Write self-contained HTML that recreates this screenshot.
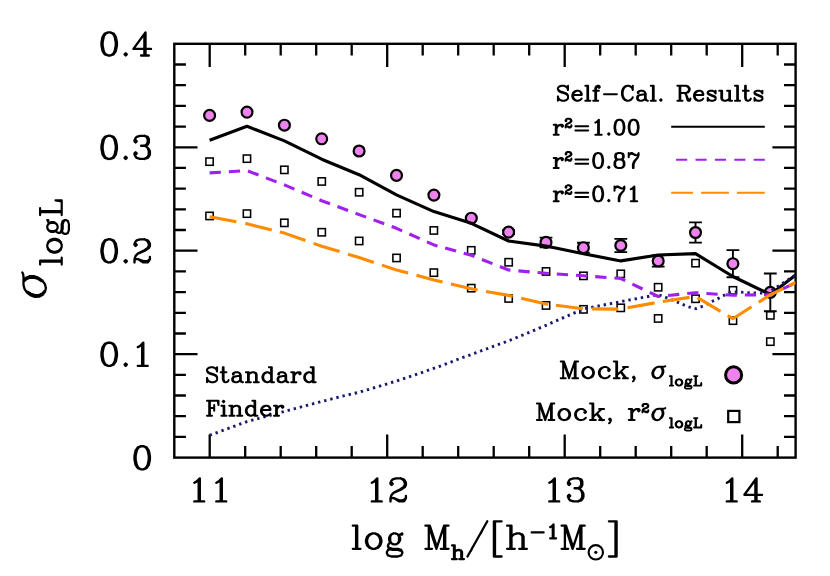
<!DOCTYPE html>
<html><head><meta charset="utf-8"><title>sigma logL</title>
<style>html,body{margin:0;padding:0;background:#fff;}svg{display:block;}</style>
</head><body>
<svg width="830" height="576" viewBox="0 0 830 576">
<rect x="0" y="0" width="830" height="576" fill="#fff"/>
<defs><clipPath id="cp"><rect x="174.3" y="43.8" width="621.3" height="413.8"/></clipPath></defs>
<path d="M209.7 457.6v-23.2M209.7 43.8v23.2M245.2 457.6v-11.6M245.2 43.8v11.6M280.7 457.6v-11.6M280.7 43.8v11.6M316.2 457.6v-11.6M316.2 43.8v11.6M351.7 457.6v-11.6M351.7 43.8v11.6M387.2 457.6v-23.2M387.2 43.8v23.2M422.7 457.6v-11.6M422.7 43.8v11.6M458.2 457.6v-11.6M458.2 43.8v11.6M493.7 457.6v-11.6M493.7 43.8v11.6M529.2 457.6v-11.6M529.2 43.8v11.6M564.7 457.6v-23.2M564.7 43.8v23.2M600.2 457.6v-11.6M600.2 43.8v11.6M635.7 457.6v-11.6M635.7 43.8v11.6M671.2 457.6v-11.6M671.2 43.8v11.6M706.7 457.6v-11.6M706.7 43.8v11.6M742.2 457.6v-23.2M742.2 43.8v23.2M777.7 457.6v-11.6M777.7 43.8v11.6M174.3 436.9h11.6M795.6 436.9h-11.6M174.3 416.2h11.6M795.6 416.2h-11.6M174.3 395.5h11.6M795.6 395.5h-11.6M174.3 374.8h11.6M795.6 374.8h-11.6M174.3 354.2h23.2M795.6 354.2h-23.2M174.3 333.5h11.6M795.6 333.5h-11.6M174.3 312.8h11.6M795.6 312.8h-11.6M174.3 292.1h11.6M795.6 292.1h-11.6M174.3 271.4h11.6M795.6 271.4h-11.6M174.3 250.7h23.2M795.6 250.7h-23.2M174.3 230.0h11.6M795.6 230.0h-11.6M174.3 209.3h11.6M795.6 209.3h-11.6M174.3 188.6h11.6M795.6 188.6h-11.6M174.3 167.9h11.6M795.6 167.9h-11.6M174.3 147.3h23.2M795.6 147.3h-23.2M174.3 126.6h11.6M795.6 126.6h-11.6M174.3 105.9h11.6M795.6 105.9h-11.6M174.3 85.2h11.6M795.6 85.2h-11.6M174.3 64.5h11.6M795.6 64.5h-11.6" stroke="#000" stroke-width="2.3" fill="none"/>
<rect x="174.3" y="43.8" width="621.3" height="413.8" fill="none" stroke="#000" stroke-width="2.4"/>
<g><path d="M508.6 230.1V234.1M502.2 230.1h12.8M502.2 234.1h12.8" stroke="#000" stroke-width="1.9" fill="none"/><path d="M546.0 237.6V247.2M539.6 237.6h12.8M539.6 247.2h12.8" stroke="#000" stroke-width="1.9" fill="none"/><path d="M583.4 242.8V252.6M577.0 242.8h12.8M577.0 252.6h12.8" stroke="#000" stroke-width="1.9" fill="none"/><path d="M620.8 238.9V252.1M614.4 238.9h12.8M614.4 252.1h12.8" stroke="#000" stroke-width="1.9" fill="none"/><path d="M658.2 255.4V266.6M651.8 255.4h12.8M651.8 266.6h12.8" stroke="#000" stroke-width="1.9" fill="none"/><path d="M695.5 222.4V242.6M689.1 222.4h12.8M689.1 242.6h12.8" stroke="#000" stroke-width="1.9" fill="none"/><path d="M732.9 250.1V277.3M726.5 250.1h12.8M726.5 277.3h12.8" stroke="#000" stroke-width="1.9" fill="none"/><path d="M770.3 273.5V311.3M763.9 273.5h12.8M763.9 311.3h12.8" stroke="#000" stroke-width="1.9" fill="none"/><circle cx="209.6" cy="115.4" r="5.45" fill="#ee82ee" stroke="#000" stroke-width="2.2"/><circle cx="247.0" cy="112.1" r="5.45" fill="#ee82ee" stroke="#000" stroke-width="2.2"/><circle cx="284.4" cy="125.2" r="5.45" fill="#ee82ee" stroke="#000" stroke-width="2.2"/><circle cx="321.7" cy="138.8" r="5.45" fill="#ee82ee" stroke="#000" stroke-width="2.2"/><circle cx="359.1" cy="151.0" r="5.45" fill="#ee82ee" stroke="#000" stroke-width="2.2"/><circle cx="396.5" cy="175.4" r="5.45" fill="#ee82ee" stroke="#000" stroke-width="2.2"/><circle cx="433.9" cy="195.1" r="5.45" fill="#ee82ee" stroke="#000" stroke-width="2.2"/><circle cx="471.3" cy="218.2" r="5.45" fill="#ee82ee" stroke="#000" stroke-width="2.2"/><circle cx="508.6" cy="232.1" r="5.45" fill="#ee82ee" stroke="#000" stroke-width="2.2"/><circle cx="546.0" cy="242.4" r="5.45" fill="#ee82ee" stroke="#000" stroke-width="2.2"/><circle cx="583.4" cy="247.7" r="5.45" fill="#ee82ee" stroke="#000" stroke-width="2.2"/><circle cx="620.8" cy="245.5" r="5.45" fill="#ee82ee" stroke="#000" stroke-width="2.2"/><circle cx="658.2" cy="261.0" r="5.45" fill="#ee82ee" stroke="#000" stroke-width="2.2"/><circle cx="695.5" cy="232.5" r="5.45" fill="#ee82ee" stroke="#000" stroke-width="2.2"/><circle cx="732.9" cy="263.7" r="5.45" fill="#ee82ee" stroke="#000" stroke-width="2.2"/><circle cx="770.3" cy="292.4" r="5.45" fill="#ee82ee" stroke="#000" stroke-width="2.2"/><rect x="205.9" y="158.0" width="7.3" height="7.3" fill="none" stroke="#000" stroke-width="1.55"/><rect x="243.3" y="155.0" width="7.3" height="7.3" fill="none" stroke="#000" stroke-width="1.55"/><rect x="280.7" y="166.2" width="7.3" height="7.3" fill="none" stroke="#000" stroke-width="1.55"/><rect x="318.1" y="177.8" width="7.3" height="7.3" fill="none" stroke="#000" stroke-width="1.55"/><rect x="355.5" y="188.6" width="7.3" height="7.3" fill="none" stroke="#000" stroke-width="1.55"/><rect x="392.9" y="209.5" width="7.3" height="7.3" fill="none" stroke="#000" stroke-width="1.55"/><rect x="430.2" y="226.8" width="7.3" height="7.3" fill="none" stroke="#000" stroke-width="1.55"/><rect x="467.6" y="246.7" width="7.3" height="7.3" fill="none" stroke="#000" stroke-width="1.55"/><rect x="505.0" y="258.6" width="7.3" height="7.3" fill="none" stroke="#000" stroke-width="1.55"/><rect x="542.4" y="267.8" width="7.3" height="7.3" fill="none" stroke="#000" stroke-width="1.55"/><rect x="579.8" y="272.2" width="7.3" height="7.3" fill="none" stroke="#000" stroke-width="1.55"/><rect x="617.1" y="270.2" width="7.3" height="7.3" fill="none" stroke="#000" stroke-width="1.55"/><rect x="654.5" y="283.6" width="7.3" height="7.3" fill="none" stroke="#000" stroke-width="1.55"/><rect x="691.9" y="259.5" width="7.3" height="7.3" fill="none" stroke="#000" stroke-width="1.55"/><rect x="729.3" y="286.7" width="7.3" height="7.3" fill="none" stroke="#000" stroke-width="1.55"/><rect x="766.7" y="311.7" width="7.3" height="7.3" fill="none" stroke="#000" stroke-width="1.55"/><rect x="205.9" y="212.3" width="7.3" height="7.3" fill="none" stroke="#000" stroke-width="1.55"/><rect x="243.3" y="210.0" width="7.3" height="7.3" fill="none" stroke="#000" stroke-width="1.55"/><rect x="280.7" y="219.2" width="7.3" height="7.3" fill="none" stroke="#000" stroke-width="1.55"/><rect x="318.1" y="228.6" width="7.3" height="7.3" fill="none" stroke="#000" stroke-width="1.55"/><rect x="355.5" y="237.3" width="7.3" height="7.3" fill="none" stroke="#000" stroke-width="1.55"/><rect x="392.9" y="254.3" width="7.3" height="7.3" fill="none" stroke="#000" stroke-width="1.55"/><rect x="430.2" y="269.0" width="7.3" height="7.3" fill="none" stroke="#000" stroke-width="1.55"/><rect x="467.6" y="284.5" width="7.3" height="7.3" fill="none" stroke="#000" stroke-width="1.55"/><rect x="505.0" y="294.8" width="7.3" height="7.3" fill="none" stroke="#000" stroke-width="1.55"/><rect x="542.4" y="301.8" width="7.3" height="7.3" fill="none" stroke="#000" stroke-width="1.55"/><rect x="579.8" y="305.7" width="7.3" height="7.3" fill="none" stroke="#000" stroke-width="1.55"/><rect x="617.1" y="304.2" width="7.3" height="7.3" fill="none" stroke="#000" stroke-width="1.55"/><rect x="654.5" y="314.8" width="7.3" height="7.3" fill="none" stroke="#000" stroke-width="1.55"/><rect x="691.9" y="295.1" width="7.3" height="7.3" fill="none" stroke="#000" stroke-width="1.55"/><rect x="729.3" y="317.0" width="7.3" height="7.3" fill="none" stroke="#000" stroke-width="1.55"/><rect x="766.7" y="338.0" width="7.3" height="7.3" fill="none" stroke="#000" stroke-width="1.55"/></g>
<g clip-path="url(#cp)" fill="none" stroke-linejoin="round">
<polyline points="209.6,140.3 247.0,126.3 284.4,140.9 321.7,159.2 359.1,174.7 396.5,194.8 433.9,211.6 471.3,223.3 508.6,241.0 546.0,246.1 583.4,253.7 620.8,260.9 658.2,255.0 695.5,253.6 732.9,276.5 770.3,294.5 795.7,274.9" stroke="#000" stroke-width="3.1"/>
<polyline points="209.6,435.3 246.9,421.6 284.3,411.4 321.7,401.5 341.2,396.5 359.2,392.2 377.2,386.9 394.9,381.5 412.7,375.7 430.4,369.5 447.7,363.4 459.3,358.7 471.3,354.5 490.0,347.6 508.6,340.8 527.3,333.2 546.0,325.3 583.4,309.0 620.8,301.6 658.2,294.6 670.7,299.3 681.3,303.9 688.0,306.7 696.0,308.7 704.3,305.7 709.5,302.5 715.6,299.9 721.2,296.9 727.0,293.7 732.1,291.8 738.6,292.0 750.6,292.8 767.0,293.3 795.7,274.9" stroke="#191970" stroke-width="2.9" stroke-dasharray="2.4 3.9"/>
<polyline points="209.6,172.9 247.0,170.6 284.4,184.9 321.7,200.7 359.1,214.6 396.5,228.3 433.9,244.9 471.3,255.3 508.6,270.0 546.0,273.3 583.4,275.8 620.8,278.5 658.2,296.5 695.5,292.7 732.9,295.2 770.3,294.6 795.7,282.8" stroke="#a020f0" stroke-width="3.1" stroke-dasharray="11.3 7.96"/>
<polyline points="209.6,216.8 247.0,223.8 284.4,233.1 321.7,246.2 359.1,257.5 396.5,270.0 433.9,279.9 471.3,288.8 508.6,295.4 546.0,303.9 583.4,308.8 620.8,309.1 658.2,302.2 695.5,296.5 732.9,318.7 770.3,294.8 795.7,282.3" stroke="#ff8c00" stroke-width="3.1" stroke-dasharray="27.2 9.1 27.2 8.4 27.0 8.6 27.3 8.8 27.1 8.5 27.5 8.6 26.9 8.6 27.4 8.5 27.2 8.6 27.6 7.9 27.2 9.2 26.2 9.4 27.5 8.3 27.1 8.3 26.8 8.3 28.2 8.5 28.2 6.6 12.3 50"/>
</g>
<path d="M671.2 126.8H764.8" stroke="#000" stroke-width="2" fill="none"/>
<path d="M676.1 159.8H764.8" stroke="#a020f0" stroke-width="2" stroke-dasharray="11.1 8.3" fill="none"/>
<path d="M671.2 192.8H693M701.1 192.8H728.9M736.9 192.8H764.8" stroke="#ff8c00" stroke-width="2" fill="none"/>
<circle cx="733.6" cy="374.9" r="8.05" fill="#ee82ee" stroke="#000" stroke-width="3"/>
<rect x="728.2" y="410.9" width="11.2" height="11.2" fill="none" stroke="#000" stroke-width="2.2"/>
<path d="M108.1 32.4L104.8 33.5L102.6 36.8L101.5 42.3L101.5 45.6L102.6 51.1L104.8 54.4L108.1 55.5M108.1 32.4L105.9 33.5L104.8 34.6L103.7 36.8L102.6 42.3L102.6 45.6L103.7 51.1L104.8 53.3L105.9 54.4L108.1 55.5M108.1 32.4L110.3 32.4M108.1 55.5L110.3 55.5M110.3 32.4L113.6 33.5L115.8 36.8L116.9 42.3L116.9 45.6L115.8 51.1L113.6 54.4L110.3 55.5M110.3 32.4L112.5 33.5L113.6 34.6L114.7 36.8L115.8 42.3L115.8 45.6L114.7 51.1L113.6 53.3L112.5 54.4L110.3 55.5M124.6 54.4L125.7 53.3L126.8 54.4L125.7 55.5L124.6 54.4M145.5 55.5L145.5 32.4L133.4 48.9L151 48.9M144.4 34.6L144.4 55.5M141.1 55.5L148.8 55.5" fill="none" stroke="#000" stroke-width="2.35" stroke-linecap="round" stroke-linejoin="round"/>
<path d="M108.1 135.8L104.8 136.9L102.6 140.2L101.5 145.7L101.5 149L102.6 154.5L104.8 157.8L108.1 158.9M108.1 135.8L105.9 136.9L104.8 138L103.7 140.2L102.6 145.7L102.6 149L103.7 154.5L104.8 156.7L105.9 157.8L108.1 158.9M108.1 135.8L110.3 135.8M108.1 158.9L110.3 158.9M110.3 135.8L113.6 136.9L115.8 140.2L116.9 145.7L116.9 149L115.8 154.5L113.6 157.8L110.3 158.9M110.3 135.8L112.5 136.9L113.6 138L114.7 140.2L115.8 145.7L115.8 149L114.7 154.5L113.6 156.7L112.5 157.8L110.3 158.9M124.6 157.8L125.7 156.7L126.8 157.8L125.7 158.9L124.6 157.8M144.4 135.8L140 135.8L136.7 136.9L135.6 138L134.5 140.2L134.5 141.3L135.6 142.4L136.7 141.3L135.6 140.2M144.4 135.8L147.7 136.9L148.8 139.1L148.8 142.4L147.7 144.6L144.4 145.7M144.4 135.8L146.6 136.9L147.7 139.1L147.7 142.4L146.6 144.6L144.4 145.7M144.4 158.9L140 158.9L136.7 157.8L135.6 156.7L134.5 154.5L134.5 153.4L135.6 152.3L136.7 153.4L135.6 154.5M144.4 158.9L147.7 157.8L148.8 156.7L149.9 154.5L149.9 151.2L148.8 149L146.6 146.8L144.4 145.7M144.4 158.9L146.6 157.8L147.7 156.7L148.8 154.5L148.8 151.2L147.7 147.9M144.4 145.7L141.1 145.7" fill="none" stroke="#000" stroke-width="2.35" stroke-linecap="round" stroke-linejoin="round"/>
<path d="M108.1 239.3L104.8 240.4L102.6 243.7L101.5 249.2L101.5 252.5L102.6 258L104.8 261.2L108.1 262.4M108.1 239.3L105.9 240.4L104.8 241.5L103.7 243.7L102.6 249.2L102.6 252.5L103.7 258L104.8 260.2L105.9 261.2L108.1 262.4M108.1 239.3L110.3 239.3M108.1 262.4L110.3 262.4M110.3 239.3L113.6 240.4L115.8 243.7L116.9 249.2L116.9 252.5L115.8 258L113.6 261.2L110.3 262.4M110.3 239.3L112.5 240.4L113.6 241.5L114.7 243.7L115.8 249.2L115.8 252.5L114.7 258L113.6 260.2L112.5 261.2L110.3 262.4M124.6 261.2L125.7 260.2L126.8 261.2L125.7 262.4L124.6 261.2M137.8 253.6L145.5 250.3L148.8 248.1L149.9 245.9L149.9 243.7L148.8 241.5L147.7 240.4L144.4 239.3M137.8 253.6L144.4 250.3L147.7 248.1L148.8 245.9L148.8 243.7L147.7 241.5L146.6 240.4L144.4 239.3M137.8 253.6L135.6 255.8L134.5 259.1L134.5 262.4M137.8 259.1L143.3 262.4L147.7 262.4L148.8 261.2L149.9 259.1M137.8 259.1L143.3 261.2L146.6 261.2L148.8 260.2L149.9 259.1M137.8 259.1L135.6 259.1L134.5 260.2M144.4 239.3L140 239.3L136.7 240.4L135.6 241.5L134.5 243.7L134.5 244.8L135.6 245.9L136.7 244.8L135.6 243.7M149.9 259.1L149.9 256.9" fill="none" stroke="#000" stroke-width="2.35" stroke-linecap="round" stroke-linejoin="round"/>
<path d="M108.1 342.7L104.8 343.8L102.6 347.1L101.5 352.6L101.5 355.9L102.6 361.4L104.8 364.7L108.1 365.8M108.1 342.7L105.9 343.8L104.8 344.9L103.7 347.1L102.6 352.6L102.6 355.9L103.7 361.4L104.8 363.6L105.9 364.7L108.1 365.8M108.1 342.7L110.3 342.7M108.1 365.8L110.3 365.8M110.3 342.7L113.6 343.8L115.8 347.1L116.9 352.6L116.9 355.9L115.8 361.4L113.6 364.7L110.3 365.8M110.3 342.7L112.5 343.8L113.6 344.9L114.7 347.1L115.8 352.6L115.8 355.9L114.7 361.4L113.6 363.6L112.5 364.7L110.3 365.8M124.6 364.7L125.7 363.6L126.8 364.7L125.7 365.8L124.6 364.7M143.3 365.8L143.3 342.7L140 346L137.8 347.1M142.2 343.8L142.2 365.8M137.8 365.8L147.7 365.8" fill="none" stroke="#000" stroke-width="2.35" stroke-linecap="round" stroke-linejoin="round"/>
<path d="M141.1 446.2L137.8 447.3L135.6 450.6L134.5 456.1L134.5 459.4L135.6 464.9L137.8 468.2L141.1 469.3M141.1 446.2L138.9 447.3L137.8 448.4L136.7 450.6L135.6 456.1L135.6 459.4L136.7 464.9L137.8 467.1L138.9 468.2L141.1 469.3M141.1 446.2L143.3 446.2M141.1 469.3L143.3 469.3M143.3 446.2L146.6 447.3L148.8 450.6L149.9 456.1L149.9 459.4L148.8 464.9L146.6 468.2L143.3 469.3M143.3 446.2L145.5 447.3L146.6 448.4L147.7 450.6L148.8 456.1L148.8 459.4L147.7 464.9L146.6 467.1L145.5 468.2L143.3 469.3" fill="none" stroke="#000" stroke-width="2.35" stroke-linecap="round" stroke-linejoin="round"/>
<path d="M199.8 501.4L199.8 478.3L196.5 481.6L194.3 482.7M198.7 479.4L198.7 501.4M194.3 501.4L204.2 501.4M221.8 501.4L221.8 478.3L218.5 481.6L216.3 482.7M220.7 479.4L220.7 501.4M216.3 501.4L226.2 501.4" fill="none" stroke="#000" stroke-width="2.35" stroke-linecap="round" stroke-linejoin="round"/>
<path d="M377.3 501.4L377.3 478.3L374 481.6L371.8 482.7M376.2 479.4L376.2 501.4M371.8 501.4L381.7 501.4M393.8 492.6L401.5 489.3L404.8 487.1L405.9 484.9L405.9 482.7L404.8 480.5L403.7 479.4L400.4 478.3M393.8 492.6L400.4 489.3L403.7 487.1L404.8 484.9L404.8 482.7L403.7 480.5L402.6 479.4L400.4 478.3M393.8 492.6L391.6 494.8L390.5 498.1L390.5 501.4M393.8 498.1L399.3 501.4L403.7 501.4L404.8 500.3L405.9 498.1M393.8 498.1L399.3 500.3L402.6 500.3L404.8 499.2L405.9 498.1M393.8 498.1L391.6 498.1L390.5 499.2M400.4 478.3L396 478.3L392.7 479.4L391.6 480.5L390.5 482.7L390.5 483.8L391.6 484.9L392.7 483.8L391.6 482.7M405.9 498.1L405.9 495.9" fill="none" stroke="#000" stroke-width="2.35" stroke-linecap="round" stroke-linejoin="round"/>
<path d="M554.8 501.4L554.8 478.3L551.5 481.6L549.3 482.7M553.7 479.4L553.7 501.4M549.3 501.4L559.2 501.4M577.9 478.3L573.5 478.3L570.2 479.4L569.1 480.5L568 482.7L568 483.8L569.1 484.9L570.2 483.8L569.1 482.7M577.9 478.3L581.2 479.4L582.3 481.6L582.3 484.9L581.2 487.1L577.9 488.2M577.9 478.3L580.1 479.4L581.2 481.6L581.2 484.9L580.1 487.1L577.9 488.2M577.9 501.4L573.5 501.4L570.2 500.3L569.1 499.2L568 497L568 495.9L569.1 494.8L570.2 495.9L569.1 497M577.9 501.4L581.2 500.3L582.3 499.2L583.4 497L583.4 493.7L582.3 491.5L580.1 489.3L577.9 488.2M577.9 501.4L580.1 500.3L581.2 499.2L582.3 497L582.3 493.7L581.2 490.4M577.9 488.2L574.6 488.2" fill="none" stroke="#000" stroke-width="2.35" stroke-linecap="round" stroke-linejoin="round"/>
<path d="M732.3 501.4L732.3 478.3L729 481.6L726.8 482.7M731.2 479.4L731.2 501.4M726.8 501.4L736.7 501.4M756.5 501.4L756.5 478.3L744.4 494.8L762 494.8M755.4 480.5L755.4 501.4M752.1 501.4L759.8 501.4" fill="none" stroke="#000" stroke-width="2.35" stroke-linecap="round" stroke-linejoin="round"/>
<path d="M356.1 525.7L356.1 548.8M357.2 548.8L357.2 525.7L352.8 525.7M352.8 548.8L360.5 548.8M372.6 533.4L369.3 534.5L367.1 536.7L366 540L366 542.2L367.1 545.5L369.3 547.7L372.6 548.8M372.6 533.4L370.4 534.5L368.2 536.7L367.1 540L367.1 542.2L368.2 545.5L370.4 547.7L372.6 548.8M372.6 533.4L374.8 533.4M372.6 548.8L374.8 548.8M374.8 533.4L378.1 534.5L380.3 536.7L381.4 540L381.4 542.2L380.3 545.5L378.1 547.7L374.8 548.8M374.8 533.4L377 534.5L379.2 536.7L380.3 540L380.3 542.2L379.2 545.5L377 547.7L374.8 548.8M391.3 548.8L388 549.9L386.9 552.1L386.9 553.2L388 555.4L391.3 556.5L397.9 556.5L401.2 555.4L402.3 553.2L402.3 552.1M388 546.6L389.1 548.8L392.4 549.9L397.9 549.9L401.2 551L402.3 552.1M388 546.6L389.1 547.7L392.4 548.8L397.9 548.8L401.2 549.9L402.3 552.1M388 546.6L388 545.5L389.1 543.3L390.2 542.2M390.2 542.2L389.1 540L389.1 537.8L390.2 535.6L391.3 534.5M390.2 542.2L391.3 543.3M391.3 534.5L390.2 536.7L390.2 541.1L391.3 543.3M391.3 534.5L393.5 533.4L395.8 533.4L397.9 534.5M391.3 543.3L393.5 544.4L395.8 544.4L397.9 543.3M397.9 534.5L399 536.7L399 541.1L397.9 543.3M397.9 534.5L399 535.6M397.9 543.3L399 542.2L400.1 540L400.1 537.8L399 535.6M399 535.6L400.1 534.5M400.1 534.5L402.3 533.4L402.3 534.5L400.1 534.5M444.1 525.7L436.4 548.8L428.8 525.7L428.8 548.8M444.1 525.7L444.1 548.8M444.1 525.7L448.5 525.7M445.2 525.7L445.2 548.8M436.4 545.5L429.8 525.7L425.4 525.7M440.8 548.8L448.5 548.8M425.4 548.8L432 548.8M454 545.4L454 559.2M454.7 559.2L454.7 545.4L452.1 545.4M461.3 559.2L461.3 552L460.6 550.7L459.3 550M462 559.2L462 552L461.3 550.7L459.3 550M452.1 559.2L456.7 559.2M459.3 559.2L463.9 559.2M459.3 550L458 550L456 550.7L454.7 552M467.5 556.5L487.3 521.3M470.8 551L473 546.6M480.7 533.4L482.9 529M495 521.3L495 556.5M501.6 521.3L493.9 521.3L493.9 556.5L501.6 556.5M510.4 525.7L510.4 548.8M511.5 548.8L511.5 525.7L507.1 525.7M522.5 548.8L522.5 536.7L521.4 534.5L519.2 533.4M523.6 548.8L523.6 536.7L522.5 534.5L519.2 533.4M507.1 548.8L514.8 548.8M519.2 548.8L526.9 548.8M519.2 533.4L517 533.4L513.7 534.5L511.5 536.7M531.7 532.4L543.6 532.4M553.5 538.3L553.5 524.5L551.5 526.5L550.2 527.1M552.8 525.1L552.8 538.3M550.2 538.3L556.1 538.3M580.3 525.7L572.6 548.8L564.9 525.7L564.9 548.8M580.3 525.7L580.3 548.8M580.3 525.7L584.7 525.7M581.4 525.7L581.4 548.8M572.6 545.5L566 525.7L561.6 525.7M577 548.8L584.7 548.8M561.6 548.8L568.2 548.8" fill="none" stroke="#000" stroke-width="2.3" stroke-linecap="round" stroke-linejoin="round"/>
<path d="M615.5 521.3L615.5 556.5M608.9 521.3L616.6 521.3L616.6 556.5L608.9 556.5" fill="none" stroke="#000" stroke-width="2.3" stroke-linecap="round" stroke-linejoin="round"/>
<circle cx="595.8" cy="552.3" r="7.2" fill="none" stroke="#000" stroke-width="2.1"/><circle cx="595.8" cy="552.3" r="1.6" fill="#000"/>
<path d="M22.3 272.5L23.1 273.8L23.5 276.5L23.5 285L24.5 288.8L27 292.6L30.7 295.3L35.1 296.8L39.5 296.5L42.9 294.7L45.1 291.6L45.9 288L44.9 284.1L42.3 280.5L38.2 277.6L33.8 276.1L29.5 276.2L26 277.8L23.9 280.2L23.5 281.4M27.6 291.6L31 293.8L35.1 295.1L39.5 294.8L42.6 293.2L44.5 291M41.3 281.1L38.2 279L33.8 277.6L29.8 277.8L26.4 279.1L24.5 280.8" fill="none" stroke="#000" stroke-width="2.3" stroke-linecap="round" stroke-linejoin="round"/>
<path d="M40.1 261.7L61.7 261.7M61.7 260.7L40.1 260.7L40.1 264.6M61.7 264.6L61.7 257.7M47.3 246.8L48.3 249.8L50.4 251.8L53.5 252.7L55.5 252.7L58.6 251.8L60.7 249.8L61.7 246.8M47.3 246.8L48.3 248.8L50.4 250.8L53.5 251.8L55.5 251.8L58.6 250.8L60.7 248.8L61.7 246.8M47.3 246.8L47.3 244.8M61.7 246.8L61.7 244.8M47.3 244.8L48.3 241.9L50.4 239.9L53.5 238.9L55.5 238.9L58.6 239.9L60.7 241.9L61.7 244.8M47.3 244.8L48.3 242.8L50.4 240.9L53.5 239.9L55.5 239.9L58.6 240.9L60.7 242.8L61.7 244.8M61.7 230L62.7 232.9L64.8 233.9L65.8 233.9L67.9 232.9L68.9 230L68.9 224L67.9 221.1L65.8 220.1L64.8 220.1M59.6 232.9L61.7 232L62.7 229L62.7 224L63.8 221.1L64.8 220.1M59.6 232.9L60.7 232L61.7 229L61.7 224L62.7 221.1L64.8 220.1M59.6 232.9L58.6 232.9L56.6 232L55.5 231M55.5 231L53.5 232L51.4 232L49.3 231L48.3 230M55.5 231L56.6 230M48.3 230L50.4 231L54.5 231L56.6 230M48.3 230L47.3 228L47.3 226L48.3 224M56.6 230L57.6 228L57.6 226L56.6 224M48.3 224L50.4 223L54.5 223L56.6 224M48.3 224L49.3 223M56.6 224L55.5 223L53.5 222.1L51.4 222.1L49.3 223M49.3 223L48.3 222.1M48.3 222.1L47.3 220.1L48.3 220.1L48.3 222.1M40.1 212.2L61.7 212.2M40.1 211.2L61.7 211.2M61.7 215.1L61.7 200.3L55.5 200.3L61.7 201.3L56.6 200.3M40.1 215.1L40.1 208.2" fill="none" stroke="#000" stroke-width="2.2" stroke-linecap="round" stroke-linejoin="round"/>
<path d="M568 95.7L568 98.6L566.5 100L564.4 100.7L562.2 100.7L560.1 100L558.6 98.6M568 95.7L566.5 94.3L565.1 93.6L560.8 92.2L559.3 91.5L558.6 90.8L557.9 89.3M568 95.7L567.3 94.3L566.5 93.6L565.1 92.9L560.8 91.5L559.3 90.8L557.9 89.3M558.6 98.6L557.9 96.4L557.9 100.7L558.6 98.6M567.3 87.9L568 85.8L568 90.1L567.3 87.9M567.3 87.9L565.8 86.5L563.7 85.8L561.5 85.8L559.3 86.5L557.9 87.9L557.9 89.3M573 95L581.7 95L581.7 93.6L580.9 92.2L580.2 91.5M573 95L573.7 92.9L575.2 91.5L576.6 90.8M573 95L573 96.4L573.7 98.6L575.2 100L576.6 100.7M576.6 90.8L574.5 91.5L573 92.9L572.3 95L572.3 96.4L573 98.6L574.5 100L576.6 100.7M576.6 90.8L578.8 90.8L580.2 91.5M576.6 100.7L578.1 100.7L580.2 100L581.7 98.6M580.9 95L580.9 92.9L580.2 91.5M587.4 85.8L587.4 100.7M588.1 100.7L588.1 85.8L585.3 85.8M585.3 100.7L590.3 100.7M595.3 100.7L595.3 87.9L596.1 86.5L597.5 85.8M596.1 100.7L596.1 87.9L596.8 86.5L597.5 85.8M593.2 90.8L598.9 90.8M593.2 100.7L598.2 100.7M597.5 85.8L598.9 85.8L599.7 86.5L599.7 87.2L598.9 87.9L598.2 87.2L598.9 86.5M604 94.3L616.9 94.3M627 85.8L624.9 86.5L623.4 87.9L622.7 89.3L622 91.5L622 95L622.7 97.2L623.4 98.6L624.9 100L627 100.7M627 85.8L625.6 86.5L624.1 87.9L623.4 89.3L622.7 91.5L622.7 95L623.4 97.2L624.1 98.6L625.6 100L627 100.7M627 85.8L628.5 85.8L630.6 86.5L632.1 87.9M627 100.7L628.5 100.7L630.6 100L632.1 98.6L632.8 97.2M632.1 87.9L632.8 85.8L632.8 90.1L632.1 87.9M645 92.2L645 98.6M645 92.2L645.7 93.6L645.7 98.6L646.5 100L647.2 100.7M645 92.2L644.3 91.5L642.9 90.8L640 90.8L638.5 91.5L637.8 92.2L637.8 92.9L638.5 92.9L638.5 92.2M645 98.6L643.6 100L642.1 100.7L640 100.7M645 98.6L645.7 100L647.2 100.7M640 95L644.3 94.3L645 93.6M640 95L637.8 95.7L637.1 97.2L637.1 98.6L637.8 100L640 100.7M640 95L638.5 95.7L637.8 97.2L637.8 98.6L638.5 100L640 100.7M647.2 100.7L647.9 100.7M652.9 85.8L652.9 100.7M653.7 100.7L653.7 85.8L650.8 85.8M650.8 100.7L655.8 100.7M660.1 100L660.9 99.3L661.6 100L660.9 100.7L660.1 100M679.6 85.8L679.6 100.7M680.3 85.8L680.3 100.7M677.4 85.8L686.1 85.8M686.1 85.8L688.2 86.5L688.9 87.2L689.7 88.6L689.7 90.1L688.9 91.5L688.2 92.2L686.1 92.9M686.1 85.8L687.5 86.5L688.2 87.2L688.9 88.6L688.9 90.1L688.2 91.5L687.5 92.2L686.1 92.9M680.3 92.9L686.1 92.9M677.4 100.7L682.5 100.7M683.9 92.9L685.3 93.6M685.3 93.6L686.1 95L687.5 100L688.2 100.7L689.7 100.7L690.4 99.3M685.3 93.6L686.1 94.3L688.2 99.3L688.9 100L689.7 100L690.4 99.3M690.4 99.3L690.4 98.6M694.7 95L703.3 95L703.3 93.6L702.6 92.2L701.9 91.5M694.7 95L695.4 92.9L696.9 91.5L698.3 90.8M694.7 95L694.7 96.4L695.4 98.6L696.9 100L698.3 100.7M698.3 90.8L696.1 91.5L694.7 92.9L694 95L694 96.4L694.7 98.6L696.1 100L698.3 100.7M698.3 90.8L700.5 90.8L701.9 91.5M698.3 100.7L699.7 100.7L701.9 100L703.3 98.6M702.6 95L702.6 92.9L701.9 91.5M708.4 99.3L707.7 97.9L707.7 100.7L708.4 99.3M708.4 99.3L709.1 100L710.5 100.7L713.4 100.7L714.9 100L715.6 99.3L715.6 97.2L714.9 96.4L708.4 93.6L707.7 92.9M714.9 92.2L715.6 90.8L715.6 93.6L714.9 92.2M714.9 92.2L714.1 91.5L712.7 90.8L709.8 90.8L708.4 91.5L707.7 92.2L707.7 93.6L708.4 94.3L714.9 97.2L715.6 97.9M729.3 90.8L729.3 100.7L732.1 100.7M730 100.7L730 90.8L727.1 90.8M721.3 90.8L721.3 98.6L722.1 100L724.2 100.7M719.2 90.8L722.1 90.8L722.1 98.6L722.8 100L724.2 100.7M724.2 100.7L725.7 100.7L727.8 100L729.3 98.6M737.2 85.8L737.2 100.7M737.9 100.7L737.9 85.8L735 85.8M735 100.7L740.1 100.7M745.1 85.8L745.1 97.9L745.8 100L747.3 100.7M745.8 85.8L745.8 97.9L746.5 100L747.3 100.7M742.9 90.8L748.7 90.8M747.3 100.7L748.7 100.7L750.1 100L750.9 98.6M755.2 99.3L754.5 97.9L754.5 100.7L755.2 99.3M755.2 99.3L755.9 100L757.3 100.7L760.2 100.7L761.7 100L762.4 99.3L762.4 97.2L761.7 96.4L755.2 93.6L754.5 92.9M761.7 92.2L762.4 90.8L762.4 93.6L761.7 92.2M761.7 92.2L760.9 91.5L759.5 90.8L756.6 90.8L755.2 91.5L754.5 92.2L754.5 93.6L755.2 94.3L761.7 97.2L762.4 97.9" fill="none" stroke="#000" stroke-width="2.0" stroke-linecap="round" stroke-linejoin="round"/>
<path d="M555.8 124.8L555.8 134.7M556.5 134.7L556.5 124.8L553.7 124.8M553.7 134.7L558.7 134.7M556.5 129L557.3 126.9L558.7 125.5L560.1 124.8L562.2 124.8L562.9 125.5L562.9 126.2L562.2 126.9L561.5 126.2L562.2 125.5M566.8 124.1L569.7 122.9L570.9 122L571.4 121.2L571.4 120.4L570.9 119.6L570.5 119.2L569.3 118.7M566.8 124.1L569.3 122.9L570.5 122L570.9 121.2L570.9 120.4L570.5 119.6L570.1 119.2L569.3 118.7M566.8 124.1L566 124.9L565.6 126.2L565.6 127.4M566.8 126.2L568.9 127.4L570.5 127.4L570.9 127L571.4 126.2M566.8 126.2L568.9 127L570.1 127L570.9 126.6L571.4 126.2M566.8 126.2L566 126.2L565.6 126.6M569.3 118.7L567.6 118.7L566.4 119.2L566 119.6L565.6 120.4L565.6 120.8L566 121.2L566.4 120.8L566 120.4M571.4 126.2L571.4 125.3M575.4 126.2L588.2 126.2M575.4 130.4L588.2 130.4M598.9 134.7L598.9 119.8L596.7 121.9L595.3 122.6M598.1 120.5L598.1 134.7M595.3 134.7L601.7 134.7M608.1 134L608.8 133.3L609.5 134L608.8 134.7L608.1 134M618.7 119.8L616.6 120.5L615.2 122.6L614.5 126.2L614.5 128.3L615.2 131.9L616.6 134L618.7 134.7M618.7 119.8L617.3 120.5L616.6 121.2L615.9 122.6L615.2 126.2L615.2 128.3L615.9 131.9L616.6 133.3L617.3 134L618.7 134.7M618.7 119.8L620.2 119.8M618.7 134.7L620.2 134.7M620.2 119.8L622.3 120.5L623.7 122.6L624.4 126.2L624.4 128.3L623.7 131.9L622.3 134L620.2 134.7M620.2 119.8L621.6 120.5L622.3 121.2L623 122.6L623.7 126.2L623.7 128.3L623 131.9L622.3 133.3L621.6 134L620.2 134.7M632.9 119.8L630.8 120.5L629.4 122.6L628.7 126.2L628.7 128.3L629.4 131.9L630.8 134L632.9 134.7M632.9 119.8L631.5 120.5L630.8 121.2L630.1 122.6L629.4 126.2L629.4 128.3L630.1 131.9L630.8 133.3L631.5 134L632.9 134.7M632.9 119.8L634.4 119.8M632.9 134.7L634.4 134.7M634.4 119.8L636.5 120.5L637.9 122.6L638.6 126.2L638.6 128.3L637.9 131.9L636.5 134L634.4 134.7M634.4 119.8L635.8 120.5L636.5 121.2L637.2 122.6L637.9 126.2L637.9 128.3L637.2 131.9L636.5 133.3L635.8 134L634.4 134.7" fill="none" stroke="#000" stroke-width="2.0" stroke-linecap="round" stroke-linejoin="round"/>
<path d="M555.8 158.1L555.8 168M556.5 168L556.5 158.1L553.7 158.1M553.7 168L558.7 168M556.5 162.3L557.3 160.2L558.7 158.8L560.1 158.1L562.2 158.1L562.9 158.8L562.9 159.5L562.2 160.2L561.5 159.5L562.2 158.8M566.8 157.4L569.7 156.2L570.9 155.3L571.4 154.5L571.4 153.7L570.9 152.9L570.5 152.5L569.3 152M566.8 157.4L569.3 156.2L570.5 155.3L570.9 154.5L570.9 153.7L570.5 152.9L570.1 152.5L569.3 152M566.8 157.4L566 158.2L565.6 159.5L565.6 160.7M566.8 159.5L568.9 160.7L570.5 160.7L570.9 160.3L571.4 159.5M566.8 159.5L568.9 160.3L570.1 160.3L570.9 159.9L571.4 159.5M566.8 159.5L566 159.5L565.6 159.9M569.3 152L567.6 152L566.4 152.5L566 152.9L565.6 153.7L565.6 154.1L566 154.5L566.4 154.1L566 153.7M571.4 159.5L571.4 158.6M575.4 159.5L588.2 159.5M575.4 163.7L588.2 163.7M597.4 153.1L595.3 153.8L593.9 155.9L593.2 159.5L593.2 161.6L593.9 165.2L595.3 167.3L597.4 168M597.4 153.1L596 153.8L595.3 154.5L594.6 155.9L593.9 159.5L593.9 161.6L594.6 165.2L595.3 166.6L596 167.3L597.4 168M597.4 153.1L598.9 153.1M597.4 168L598.9 168M598.9 153.1L601 153.8L602.4 155.9L603.1 159.5L603.1 161.6L602.4 165.2L601 167.3L598.9 168M598.9 153.1L600.3 153.8L601 154.5L601.7 155.9L602.4 159.5L602.4 161.6L601.7 165.2L601 166.6L600.3 167.3L598.9 168M608.1 167.3L608.8 166.6L609.5 167.3L608.8 168L608.1 167.3M618 153.1L620.9 153.1M618 153.1L615.9 153.8L615.2 155.2L615.2 157.3L615.9 158.8L618 159.5M618 153.1L616.6 153.8L615.9 155.2L615.9 157.3L616.6 158.8L618 159.5M620.9 153.1L623 153.8L623.7 155.2L623.7 157.3L623 158.8L620.9 159.5M620.9 153.1L622.3 153.8L623 155.2L623 157.3L622.3 158.8L620.9 159.5M618 159.5L620.9 159.5M618 159.5L615.9 160.2L615.2 160.9L614.5 162.3L614.5 165.2L615.2 166.6L615.9 167.3L618 168M618 159.5L616.6 160.2L615.9 160.9L615.2 162.3L615.2 165.2L615.9 166.6L616.6 167.3L618 168M620.9 159.5L623 160.2L623.7 160.9L624.4 162.3L624.4 165.2L623.7 166.6L623 167.3L620.9 168M620.9 159.5L622.3 160.2L623 160.9L623.7 162.3L623.7 165.2L623 166.6L622.3 167.3L620.9 168M618 168L620.9 168M637.9 157.3L634.4 160.9L633.6 162.3L632.9 164.4L632.9 168M637.9 157.3L635.1 160.9L634.4 162.3L633.6 164.4L633.6 168M637.9 157.3L638.6 155.2L638.6 153.1L637.9 154.5L637.2 155.2L635.8 155.2M628.7 153.1L628.7 157.3M635.8 155.2L632.2 153.1L630.8 153.1L629.4 154.5M635.8 155.2L632.2 153.8L630.8 153.8L629.4 154.5M629.4 154.5L628.7 155.9" fill="none" stroke="#000" stroke-width="2.0" stroke-linecap="round" stroke-linejoin="round"/>
<path d="M555.8 191.4L555.8 201.3M556.5 201.3L556.5 191.4L553.7 191.4M553.7 201.3L558.7 201.3M556.5 195.6L557.3 193.5L558.7 192.1L560.1 191.4L562.2 191.4L562.9 192.1L562.9 192.8L562.2 193.5L561.5 192.8L562.2 192.1M566.8 190.7L569.7 189.5L570.9 188.6L571.4 187.8L571.4 187L570.9 186.2L570.5 185.8L569.3 185.3M566.8 190.7L569.3 189.5L570.5 188.6L570.9 187.8L570.9 187L570.5 186.2L570.1 185.8L569.3 185.3M566.8 190.7L566 191.5L565.6 192.8L565.6 194M566.8 192.8L568.9 194L570.5 194L570.9 193.6L571.4 192.8M566.8 192.8L568.9 193.6L570.1 193.6L570.9 193.2L571.4 192.8M566.8 192.8L566 192.8L565.6 193.2M569.3 185.3L567.6 185.3L566.4 185.8L566 186.2L565.6 187L565.6 187.4L566 187.8L566.4 187.4L566 187M571.4 192.8L571.4 191.9M575.4 192.8L588.2 192.8M575.4 197L588.2 197M597.4 186.4L595.3 187.1L593.9 189.2L593.2 192.8L593.2 194.9L593.9 198.5L595.3 200.6L597.4 201.3M597.4 186.4L596 187.1L595.3 187.8L594.6 189.2L593.9 192.8L593.9 194.9L594.6 198.5L595.3 199.9L596 200.6L597.4 201.3M597.4 186.4L598.9 186.4M597.4 201.3L598.9 201.3M598.9 186.4L601 187.1L602.4 189.2L603.1 192.8L603.1 194.9L602.4 198.5L601 200.6L598.9 201.3M598.9 186.4L600.3 187.1L601 187.8L601.7 189.2L602.4 192.8L602.4 194.9L601.7 198.5L601 199.9L600.3 200.6L598.9 201.3M608.1 200.6L608.8 199.9L609.5 200.6L608.8 201.3L608.1 200.6M623.7 190.7L620.2 194.2L619.4 195.6L618.7 197.8L618.7 201.3M623.7 190.7L620.9 194.2L620.2 195.6L619.4 197.8L619.4 201.3M623.7 190.7L624.4 188.5L624.4 186.4L623.7 187.8L623 188.5L621.6 188.5M614.5 186.4L614.5 190.7M621.6 188.5L618 186.4L616.6 186.4L615.2 187.8M621.6 188.5L618 187.1L616.6 187.1L615.2 187.8M615.2 187.8L614.5 189.2M634.4 201.3L634.4 186.4L632.2 188.5L630.8 189.2M633.6 187.1L633.6 201.3M630.8 201.3L637.2 201.3" fill="none" stroke="#000" stroke-width="2.0" stroke-linecap="round" stroke-linejoin="round"/>
<path d="M574.8 361.6L569 378.2L563.2 361.6L563.2 378.2M574.8 361.6L574.8 378.2M574.8 361.6L578.1 361.6M575.6 361.6L575.6 378.2M569 375.8L564 361.6L560.7 361.6M572.3 378.2L578.1 378.2M560.7 378.2L565.7 378.2M587.3 367.1L584.8 367.9L583.1 369.5L582.3 371.9L582.3 373.5L583.1 375.8L584.8 377.4L587.3 378.2M587.3 367.1L585.6 367.9L583.9 369.5L583.1 371.9L583.1 373.5L583.9 375.8L585.6 377.4L587.3 378.2M587.3 367.1L588.9 367.1M587.3 378.2L588.9 378.2M588.9 367.1L591.4 367.9L593.1 369.5L593.9 371.9L593.9 373.5L593.1 375.8L591.4 377.4L588.9 378.2M588.9 367.1L590.6 367.9L592.2 369.5L593.1 371.9L593.1 373.5L592.2 375.8L590.6 377.4L588.9 378.2M603.9 367.1L601.4 367.9L599.7 369.5L598.9 371.9L598.9 373.5L599.7 375.8L601.4 377.4L603.9 378.2M603.9 367.1L606.4 367.1L608 367.9L609.7 369.5L609.7 370.3L608.8 371.1L608 370.3L608.8 369.5M603.9 367.1L602.2 367.9L600.5 369.5L599.7 371.9L599.7 373.5L600.5 375.8L602.2 377.4L603.9 378.2M603.9 378.2L605.5 378.2L608 377.4L609.7 375.8M616.3 361.6L616.3 378.2M617.1 378.2L617.1 361.6L613.8 361.6M617.1 375L625.4 367.1M620.5 371.9L625.4 378.2M621.3 371.9L626.3 378.2M613.8 378.2L619.6 378.2M623 367.1L627.9 367.1M623 378.2L627.9 378.2M633.7 378.2L632.9 377.4L633.7 376.6L634.6 377.4L634.6 379L633.7 380.6L632.9 381.4" fill="none" stroke="#000" stroke-width="2.0" stroke-linecap="round" stroke-linejoin="round"/>
<path d="M665.3 366.2L664.6 366.6L663.2 366.8L658.6 366.8L656.6 367.3L654.6 368.6L653.1 370.5L652.3 372.8L652.5 375L653.4 376.8L655.1 377.9L657 378.3L659.1 377.8L661 376.4L662.6 374.4L663.4 372.1L663.3 369.9L662.5 368.1L661.2 367L660.6 366.8M655.1 368.9L653.9 370.7L653.2 372.8L653.4 375L654.2 376.6L655.4 377.6M660.7 376L661.9 374.4L662.6 372.1L662.5 370L661.8 368.3L660.9 367.3" fill="none" stroke="#000" stroke-width="2.0" stroke-linecap="round" stroke-linejoin="round"/>
<path d="M671.3 376.1L671.3 385.6M671.7 385.6L671.7 376.1L669.8 376.1M669.8 385.6L673.2 385.6M678.5 379.3L677.1 379.7L676.1 380.6L675.6 382L675.6 382.9L676.1 384.2L677.1 385.1L678.5 385.6M678.5 379.3L677.6 379.7L676.6 380.6L676.1 382L676.1 382.9L676.6 384.2L677.6 385.1L678.5 385.6M678.5 379.3L679.5 379.3M678.5 385.6L679.5 385.6M679.5 379.3L681 379.7L681.9 380.6L682.4 382L682.4 382.9L681.9 384.2L681 385.1L679.5 385.6M679.5 379.3L680.5 379.7L681.4 380.6L681.9 382L681.9 382.9L681.4 384.2L680.5 385.1L679.5 385.6M686.8 385.6L685.3 386L684.8 386.9L684.8 387.4L685.3 388.3L686.8 388.7L689.7 388.7L691.1 388.3L691.6 387.4L691.6 386.9M685.3 384.7L685.8 385.6L687.3 386L689.7 386L691.1 386.5L691.6 386.9M685.3 384.7L685.8 385.1L687.3 385.6L689.7 385.6L691.1 386L691.6 386.9M685.3 384.7L685.3 384.2L685.8 383.3L686.3 382.9M686.3 382.9L685.8 382L685.8 381.1L686.3 380.2L686.8 379.7M686.3 382.9L686.8 383.3M686.8 379.7L686.3 380.6L686.3 382.4L686.8 383.3M686.8 379.7L687.7 379.3L688.7 379.3L689.7 379.7M686.8 383.3L687.7 383.8L688.7 383.8L689.7 383.3M689.7 379.7L690.2 380.6L690.2 382.4L689.7 383.3M689.7 379.7L690.2 380.2M689.7 383.3L690.2 382.9L690.7 382L690.7 381.1L690.2 380.2M690.2 380.2L690.7 379.7M690.7 379.7L691.6 379.3L691.6 379.7L690.7 379.7M695.5 376.1L695.5 385.6M696 376.1L696 385.6M694 385.6L701.3 385.6L701.3 382.9L700.8 385.6L701.3 383.3M694 376.1L697.4 376.1" fill="none" stroke="#000" stroke-width="1.8" stroke-linecap="round" stroke-linejoin="round"/>
<path d="M551 403.5L545.2 420.1L539.4 403.5L539.4 420.1M551 403.5L551 420.1M551 403.5L554.3 403.5M551.8 403.5L551.8 420.1M545.2 417.7L540.2 403.5L536.9 403.5M548.5 420.1L554.3 420.1M536.9 420.1L541.9 420.1M563.5 409L561 409.8L559.3 411.4L558.5 413.8L558.5 415.4L559.3 417.7L561 419.3L563.5 420.1M563.5 409L561.8 409.8L560.1 411.4L559.3 413.8L559.3 415.4L560.1 417.7L561.8 419.3L563.5 420.1M563.5 409L565.1 409M563.5 420.1L565.1 420.1M565.1 409L567.6 409.8L569.3 411.4L570.1 413.8L570.1 415.4L569.3 417.7L567.6 419.3L565.1 420.1M565.1 409L566.8 409.8L568.4 411.4L569.3 413.8L569.3 415.4L568.4 417.7L566.8 419.3L565.1 420.1M580.1 409L577.6 409.8L575.9 411.4L575.1 413.8L575.1 415.4L575.9 417.7L577.6 419.3L580.1 420.1M580.1 409L582.5 409L584.2 409.8L585.9 411.4L585.9 412.2L585 413L584.2 412.2L585 411.4M580.1 409L578.4 409.8L576.7 411.4L575.9 413.8L575.9 415.4L576.7 417.7L578.4 419.3L580.1 420.1M580.1 420.1L581.7 420.1L584.2 419.3L585.9 417.7M592.5 403.5L592.5 420.1M593.3 420.1L593.3 403.5L590 403.5M593.3 416.9L601.6 409M596.7 413.8L601.6 420.1M597.5 413.8L602.5 420.1M590 420.1L595.8 420.1M599.1 409L604.1 409M599.1 420.1L604.1 420.1M609.9 420.1L609.1 419.3L609.9 418.5L610.8 419.3L610.8 420.9L609.9 422.5L609.1 423.3" fill="none" stroke="#000" stroke-width="2.0" stroke-linecap="round" stroke-linejoin="round"/>
<path d="M665.3 408.1L664.6 408.5L663.2 408.7L658.6 408.7L656.6 409.2L654.6 410.5L653.1 412.4L652.3 414.7L652.5 416.9L653.4 418.7L655.1 419.8L657 420.2L659.1 419.7L661 418.3L662.6 416.3L663.4 414L663.3 411.8L662.5 410L661.2 408.9L660.6 408.7M655.1 410.8L653.9 412.6L653.2 414.7L653.4 416.9L654.2 418.5L655.4 419.5M660.7 417.9L661.9 416.3L662.6 414L662.5 411.9L661.8 410.2L660.9 409.2" fill="none" stroke="#000" stroke-width="2.0" stroke-linecap="round" stroke-linejoin="round"/>
<path d="M671.3 418.1L671.3 427.5M671.7 427.5L671.7 418.1L669.8 418.1M669.8 427.5L673.2 427.5M678.5 421.2L677.1 421.6L676.1 422.6L675.6 423.9L675.6 424.8L676.1 426.1L677.1 427.1L678.5 427.5M678.5 421.2L677.6 421.6L676.6 422.6L676.1 423.9L676.1 424.8L676.6 426.1L677.6 427.1L678.5 427.5M678.5 421.2L679.5 421.2M678.5 427.5L679.5 427.5M679.5 421.2L681 421.6L681.9 422.6L682.4 423.9L682.4 424.8L681.9 426.1L681 427.1L679.5 427.5M679.5 421.2L680.5 421.6L681.4 422.6L681.9 423.9L681.9 424.8L681.4 426.1L680.5 427.1L679.5 427.5M686.8 427.5L685.3 427.9L684.8 428.9L684.8 429.3L685.3 430.2L686.8 430.6L689.7 430.6L691.1 430.2L691.6 429.3L691.6 428.9M685.3 426.6L685.8 427.5L687.3 427.9L689.7 427.9L691.1 428.4L691.6 428.9M685.3 426.6L685.8 427.1L687.3 427.5L689.7 427.5L691.1 427.9L691.6 428.9M685.3 426.6L685.3 426.1L685.8 425.2L686.3 424.8M686.3 424.8L685.8 423.9L685.8 423L686.3 422.1L686.8 421.6M686.3 424.8L686.8 425.2M686.8 421.6L686.3 422.6L686.3 424.4L686.8 425.2M686.8 421.6L687.7 421.2L688.7 421.2L689.7 421.6M686.8 425.2L687.7 425.7L688.7 425.7L689.7 425.2M689.7 421.6L690.2 422.6L690.2 424.4L689.7 425.2M689.7 421.6L690.2 422.1M689.7 425.2L690.2 424.8L690.7 423.9L690.7 423L690.2 422.1M690.2 422.1L690.7 421.6M690.7 421.6L691.6 421.2L691.6 421.6L690.7 421.6M695.5 418.1L695.5 427.5M696 418.1L696 427.5M694 427.5L701.3 427.5L701.3 424.8L700.8 427.5L701.3 425.2M694 418.1L697.4 418.1" fill="none" stroke="#000" stroke-width="1.8" stroke-linecap="round" stroke-linejoin="round"/>
<path d="M631.3 409L631.3 420.1M632.1 420.1L632.1 409L628.8 409M628.8 420.1L634.6 420.1M632.1 413.8L632.9 411.4L634.6 409.8L636.3 409L638.8 409L639.6 409.8L639.6 410.6L638.8 411.4L637.9 410.6L638.8 409.8M643.7 409L646.6 407.9L647.9 407.1L648.3 406.3L648.3 405.5L647.9 404.7L647.5 404.3L646.2 403.9M643.7 409L646.2 407.9L647.5 407.1L647.9 406.3L647.9 405.5L647.5 404.7L647.1 404.3L646.2 403.9M643.7 409L642.9 409.8L642.5 411L642.5 412.2M643.7 411L645.8 412.2L647.5 412.2L647.9 411.8L648.3 411M643.7 411L645.8 411.8L647.1 411.8L647.9 411.4L648.3 411M643.7 411L642.9 411L642.5 411.4M646.2 403.9L644.6 403.9L643.3 404.3L642.9 404.7L642.5 405.5L642.5 405.9L642.9 406.3L643.3 405.9L642.9 405.5M648.3 411L648.3 410.2" fill="none" stroke="#000" stroke-width="2.0" stroke-linecap="round" stroke-linejoin="round"/>
<path d="M217.1 377.2L217.1 380.1L215.6 381.5L213.5 382.2L211.3 382.2L209.2 381.5L207.7 380.1M217.1 377.2L215.6 375.8L214.2 375.1L209.9 373.7L208.4 373L207.7 372.3L207 370.8M217.1 377.2L216.4 375.8L215.6 375.1L214.2 374.4L209.9 373L208.4 372.3L207 370.8M207.7 380.1L207 377.9L207 382.2L207.7 380.1M216.4 369.4L217.1 367.3L217.1 371.6L216.4 369.4M216.4 369.4L214.9 368L212.8 367.3L210.6 367.3L208.4 368L207 369.4L207 370.8M222.8 367.3L222.8 379.4L223.6 381.5L225 382.2M223.6 367.3L223.6 379.4L224.3 381.5L225 382.2M220.7 372.3L226.4 372.3M225 382.2L226.4 382.2L227.9 381.5L228.6 380.1M240.1 373.7L240.1 380.1M240.1 373.7L240.8 375.1L240.8 380.1L241.6 381.5L242.3 382.2M240.1 373.7L239.4 373L238 372.3L235.1 372.3L233.6 373L232.9 373.7L232.9 374.4L233.6 374.4L233.6 373.7M240.1 380.1L238.7 381.5L237.2 382.2L235.1 382.2M240.1 380.1L240.8 381.5L242.3 382.2M235.1 376.5L239.4 375.8L240.1 375.1M235.1 376.5L232.9 377.2L232.2 378.6L232.2 380.1L232.9 381.5L235.1 382.2M235.1 376.5L233.6 377.2L232.9 378.6L232.9 380.1L233.6 381.5L235.1 382.2M242.3 382.2L243 382.2M248 372.3L248 382.2M248.8 382.2L248.8 372.3L245.9 372.3M256 382.2L256 374.4L255.2 373L253.8 372.3M256.7 382.2L256.7 374.4L256 373L253.8 372.3M245.9 382.2L250.9 382.2M253.8 382.2L258.8 382.2M253.8 372.3L252.4 372.3L250.2 373L248.8 374.4M271.1 367.3L271.1 382.2L274 382.2M271.8 382.2L271.8 367.3L268.9 367.3M266.8 372.3L264.6 373L263.2 374.4L262.4 376.5L262.4 377.9L263.2 380.1L264.6 381.5L266.8 382.2M266.8 372.3L265.3 373L263.9 374.4L263.2 376.5L263.2 377.9L263.9 380.1L265.3 381.5L266.8 382.2M266.8 372.3L268.2 372.3L269.6 373L271.1 374.4M266.8 382.2L268.2 382.2L269.6 381.5L271.1 380.1M285.5 373.7L285.5 380.1M285.5 373.7L286.2 375.1L286.2 380.1L286.9 381.5L287.6 382.2M285.5 373.7L284.8 373L283.3 372.3L280.4 372.3L279 373L278.3 373.7L278.3 374.4L279 374.4L279 373.7M285.5 380.1L284 381.5L282.6 382.2L280.4 382.2M285.5 380.1L286.2 381.5L287.6 382.2M280.4 376.5L284.8 375.8L285.5 375.1M280.4 376.5L278.3 377.2L277.6 378.6L277.6 380.1L278.3 381.5L280.4 382.2M280.4 376.5L279 377.2L278.3 378.6L278.3 380.1L279 381.5L280.4 382.2M287.6 382.2L288.4 382.2M293.4 372.3L293.4 382.2M294.1 382.2L294.1 372.3L291.2 372.3M291.2 382.2L296.3 382.2M294.1 376.5L294.8 374.4L296.3 373L297.7 372.3L299.9 372.3L300.6 373L300.6 373.7L299.9 374.4L299.2 373.7L299.9 373M312.8 367.3L312.8 382.2L315.7 382.2M313.6 382.2L313.6 367.3L310.7 367.3M308.5 372.3L306.4 373L304.9 374.4L304.2 376.5L304.2 377.9L304.9 380.1L306.4 381.5L308.5 382.2M308.5 372.3L307.1 373L305.6 374.4L304.9 376.5L304.9 377.9L305.6 380.1L307.1 381.5L308.5 382.2M308.5 372.3L310 372.3L311.4 373L312.8 374.4M308.5 382.2L310 382.2L311.4 381.5L312.8 380.1" fill="none" stroke="#000" stroke-width="2.0" stroke-linecap="round" stroke-linejoin="round"/>
<path d="M209.2 400.8L209.2 415.7M209.9 400.8L209.9 415.7M207 400.8L218.5 400.8L218.5 405.1L217.8 400.8M214.2 405.1L214.2 410.7M207 415.7L212 415.7M209.9 407.9L214.2 407.9M223.6 405.8L223.6 415.7M224.3 415.7L224.3 405.8L221.4 405.8M221.4 415.7L226.4 415.7M222.8 401.5L223.6 400.8L224.3 401.5L223.6 402.2L222.8 401.5M231.5 405.8L231.5 415.7M232.2 415.7L232.2 405.8L229.3 405.8M239.4 415.7L239.4 407.9L238.7 406.5L237.2 405.8M240.1 415.7L240.1 407.9L239.4 406.5L237.2 405.8M229.3 415.7L234.4 415.7M237.2 415.7L242.3 415.7M237.2 405.8L235.8 405.8L233.6 406.5L232.2 407.9M254.5 400.8L254.5 415.7L257.4 415.7M255.2 415.7L255.2 400.8L252.4 400.8M250.2 405.8L248 406.5L246.6 407.9L245.9 410L245.9 411.4L246.6 413.6L248 415L250.2 415.7M250.2 405.8L248.8 406.5L247.3 407.9L246.6 410L246.6 411.4L247.3 413.6L248.8 415L250.2 415.7M250.2 405.8L251.6 405.8L253.1 406.5L254.5 407.9M250.2 415.7L251.6 415.7L253.1 415L254.5 413.6M261.7 410L270.4 410L270.4 408.6L269.6 407.2L268.9 406.5M261.7 410L262.4 407.9L263.9 406.5L265.3 405.8M261.7 410L261.7 411.4L262.4 413.6L263.9 415L265.3 415.7M265.3 405.8L263.2 406.5L261.7 407.9L261 410L261 411.4L261.7 413.6L263.2 415L265.3 415.7M265.3 405.8L267.5 405.8L268.9 406.5M265.3 415.7L266.8 415.7L268.9 415L270.4 413.6M269.6 410L269.6 407.9L268.9 406.5M276.1 405.8L276.1 415.7M276.8 415.7L276.8 405.8L274 405.8M274 415.7L279 415.7M276.8 410L277.6 407.9L279 406.5L280.4 405.8L282.6 405.8L283.3 406.5L283.3 407.2L282.6 407.9L281.9 407.2L282.6 406.5" fill="none" stroke="#000" stroke-width="2.0" stroke-linecap="round" stroke-linejoin="round"/>
</svg></body></html>
